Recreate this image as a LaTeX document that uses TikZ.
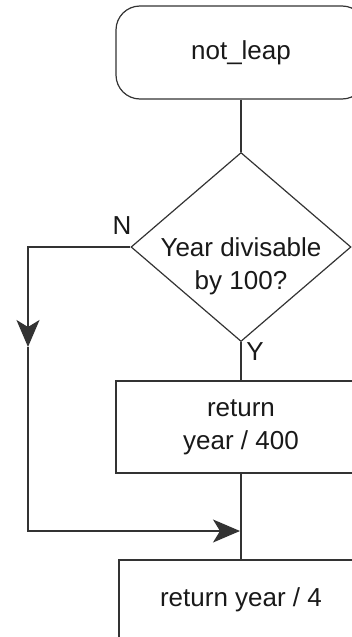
\documentclass[tikz,border=0pt]{standalone}
\usepackage{fontspec}
\setmainfont{Liberation Sans}
\usetikzlibrary{arrows.meta,shapes.geometric}
\tikzset{
	flowline/.style={line width=0.6pt, color=black!80},
	terminal/.style={draw=black!80, line width=0.6pt, rounded corners=12pt, minimum width=125pt, minimum height=46.5pt, inner sep=0pt, align=center},
	decision/.style={draw=black!80, line width=0.6pt, diamond, minimum width=110pt, minimum height=94.5pt, inner sep=0pt},
	process/.style={draw=black!80, line width=0.6pt, rectangle, minimum width=125pt, minimum height=46pt, inner sep=0pt, align=center},
	bigtip/.style={-{Stealth[length=13.5pt, width=11.5pt, inset=3.5pt]}}
}
\newcommand{\lowtext}[1]{\raisebox{-21pt}[0pt][0pt]{\begin{tabular}[b]{@{}c@{}}#1\end{tabular}}}

\begin{document}
\begin{tikzpicture}[x=0.5pt, y=-0.5pt, font=\fontsize{13}{16.5}\selectfont, text=black!90]
		%%%%% START %%%%%
		\useasboundingbox (0, 0) rectangle (352, 637);
		\clip (0, 0) rectangle (352, 637);
		
		\node[terminal] (notleap) at (241, 52.5) {not\_leap};
		\node[decision] (div100) at (241, 247) {\lowtext{Year divisable\\by 100?}};
		\node[process] (ret400) at (241, 427) {return\\year / 400};
		\node[process, minimum width=122pt, minimum height=40pt] (ret4) at (241, 600) {return year / 4};
		
		\node (labN) at (122, 226) {N};
		\node (labY) at (255, 352) {Y};
		
		\coordinate (nleft) at (28, 247);
		\coordinate (nmid) at (28, 347);
		\coordinate (nbot) at (28, 531);
		\coordinate (join) at (240, 531);
		
		\draw[flowline] (notleap) -- (div100);
		\draw[flowline] (div100) -- (ret400);
		\draw[flowline] (ret400) -- (ret4);
		
		\draw[flowline, bigtip] (div100.west) -- (nleft) -- (nmid);
		\draw[flowline, bigtip] (nmid) -- (nbot) -- (join);
		
		%%%%% END %%%%%
\end{tikzpicture}
\end{document}
